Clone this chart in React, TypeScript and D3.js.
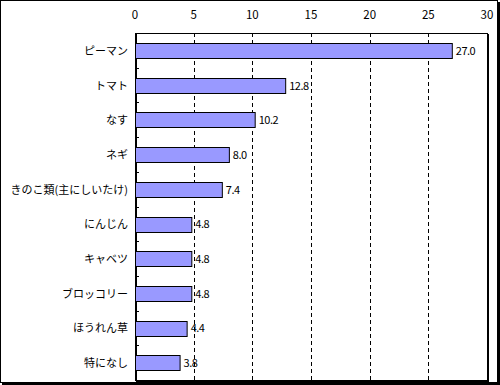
import * as d3 from "d3";

const categories = ["ピーマン", "トマト", "なす", "ネギ", "きのこ類(主にしいたけ)", "にんじん", "キャベツ", "ブロッコリー", "ほうれん草", "特になし"];
const values = [27.0, 12.8, 10.2, 8.0, 7.4, 4.8, 4.8, 4.8, 4.4, 3.8];
const ticks = [0, 5, 10, 15, 20, 25, 30];

const W = 500;
const H = 385;
const left = 135;
const right = 487;
const top = 33;
const bottom = 380;
const font = "'Noto Sans CJK JP', sans-serif";

export default function App() {
  const x = d3.scaleLinear().domain([0, 30]).range([left, right]);
  const y = d3.scaleBand<string>().domain(categories).range([top, bottom]).paddingInner(0.58).paddingOuter(0.29);
  const step = y.step();

  return (
    <svg width={W} height={H} style={{ position: "absolute", left: 0, top: 0 }}>
      <rect x={0} y={0} width={W} height={H} fill="white" />
      {/* outer frame with shadow */}
      <rect x={0.5} y={0.5} width={W - 3} height={H - 3} fill="none" stroke="black" />
      <line x1={W - 1} y1={2} x2={W - 1} y2={H} stroke="black" strokeWidth={2} />
      <line x1={2} y1={H - 1} x2={W} y2={H - 1} stroke="black" strokeWidth={2} />

      {/* grid */}
      {ticks.slice(1, -1).map((t) => (
        <line key={t} x1={Math.round(x(t)) + 0.5} x2={Math.round(x(t)) + 0.5} y1={top} y2={bottom}
          stroke="black" strokeDasharray="4,3" />
      ))}

      {/* plot area frame */}
      <rect x={left + 0.5} y={top + 0.5} width={right - left} height={bottom - top} fill="none" stroke="black" />
      <line x1={right + 1.5} y1={top + 1} x2={right + 1.5} y2={bottom + 2} stroke="black" />
      <line x1={left + 1} y1={bottom + 1.5} x2={right + 2} y2={bottom + 1.5} stroke="black" />
      <line x1={left + 1.5} y1={top} x2={left + 1.5} y2={bottom} stroke="black" />

      {/* category ticks */}
      {categories.slice(1).map((c) => (
        <line key={c} x1={left} x2={left + 4} y1={Math.round(top + step * categories.indexOf(c)) + 0.5}
          y2={Math.round(top + step * categories.indexOf(c)) + 0.5} stroke="black" />
      ))}

      {/* top axis labels */}
      {ticks.map((t) => (
        <text key={t} x={x(t)} y={19} textAnchor="middle" fontFamily={font} fontSize={11.5}>{t}</text>
      ))}

      {/* bars */}
      {categories.map((c, i) => {
        const by = y(c)!;
        return (
          <g key={c}>
            <rect x={left + 0.5} y={Math.round(by) + 0.5} width={x(values[i]) - left} height={Math.round(y.bandwidth())}
              fill="#9999ff" stroke="black" />
            <text x={x(values[i]) + 4} y={by + y.bandwidth() / 2 + 4.5} fontFamily={font} fontSize={11}
              letterSpacing={-0.5}>
              {values[i].toFixed(1)}
            </text>
            <text x={128} y={by + y.bandwidth() / 2 + 4.5} textAnchor="end" fontFamily={font} fontSize={11}>
              {c}
            </text>
          </g>
        );
      })}
    </svg>
  );
}
